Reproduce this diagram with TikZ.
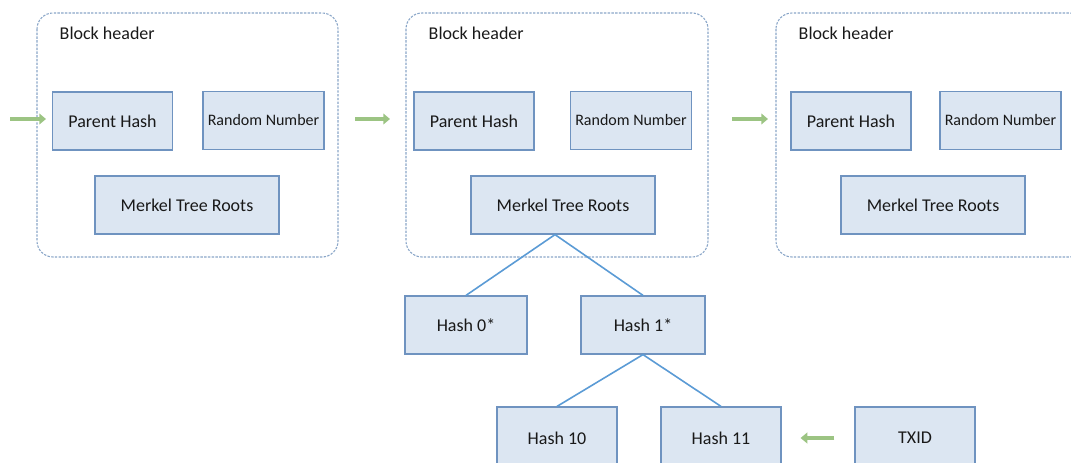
\documentclass[tikz,border=0pt]{standalone}
\usepackage{fontspec}
\setmainfont{Carlito}
\usetikzlibrary{arrows.meta}
\definecolor{boxfill}{HTML}{DCE6F2}
\definecolor{boxline}{HTML}{6F93C0}
\definecolor{frameline}{HTML}{8AA6C8}
\definecolor{treeline}{HTML}{5B9BD5}
\definecolor{flowgreen}{HTML}{9CC483}
\tikzset{
  px/.style={x=0.75pt,y=-0.75pt},
  hbox/.style={draw=boxline,fill=boxfill,line width=0.9pt,inner sep=0pt,
    font=\fontsize{13.5}{16}\selectfont,text=black!90},
  frame/.style={draw=frameline,line width=0.8pt,dash pattern=on 1.8pt off 1pt,rounded corners=12pt},
  flow/.style={draw=flowgreen,line width=3.6pt,-{Triangle[length=5pt,width=8pt]}},
  branch/.style={draw=treeline,line width=1.2pt}
}
\begin{document}
\begin{tikzpicture}[px]
\useasboundingbox (0,0) rectangle (1071,463);
\begin{scope}
\clip (0,0) rectangle (1071,463);
% block frames
\draw[frame] (37,13) rectangle (338,257);
\draw[frame] (406,13) rectangle (708,257);
\draw[frame] (776,13) rectangle (1085,257);
\node[anchor=west,font=\fontsize{13.5}{16}\selectfont,text=black!90] (bh1) at (55,33) {Block header};
\node[anchor=west,font=\fontsize{13.5}{16}\selectfont,text=black!90] (bh2) at (424,33) {Block header};
\node[anchor=west,font=\fontsize{13.5}{16}\selectfont,text=black!90] (bh3) at (794,33) {Block header};
% header fields
\foreach \i/\ph/\rn/\mk in {1/112.5/263.5/187, 2/474/631/563, 3/851/1000.5/933}{
  \node[hbox,minimum width=120*0.75pt,minimum height=58*0.75pt] (ph\i) at (\ph,121) {Parent Hash};
  \node[hbox,minimum width=121*0.75pt,minimum height=58*0.75pt,font=\fontsize{12}{14}\selectfont] (rn\i) at (\rn,120.5) {Random Number};
  \node[hbox,minimum width=184*0.75pt,minimum height=58*0.75pt] (mk\i) at (\mk,205) {Merkel Tree Roots};
}
% Merkel branch
\node[hbox,minimum width=122*0.75pt,minimum height=58*0.75pt] (h0) at (466,325) {Hash 0*};
\node[hbox,minimum width=124*0.75pt,minimum height=58*0.75pt] (h1) at (643,325) {Hash 1*};
\node[hbox,minimum width=120*0.75pt,minimum height=62*0.75pt] (h10) at (557,438) {Hash 10};
\node[hbox,minimum width=120*0.75pt,minimum height=62*0.75pt] (h11) at (721,438) {Hash 11};
\node[hbox,minimum width=120*0.75pt,minimum height=62*0.75pt] (tx) at (915,438) {TXID};
\draw[branch] ([xshift=-6pt]mk2.south) -- (h0.north);
\draw[branch] ([xshift=-6pt]mk2.south) -- (h1.north);
\draw[branch] (h1.south) -- (h10.north);
\draw[branch] (h1.south) -- (h11.north);
% chain arrows
\coordinate (in) at (10,119);
\coordinate (ine) at (46,119);
\coordinate (a1s) at (355,119);
\coordinate (a1e) at (390,119);
\coordinate (a2s) at (732,119);
\coordinate (a2e) at (768,119);
\draw[flow] (in) -- (ine);
\draw[flow] (a1s) -- (a1e);
\draw[flow] (a2s) -- (a2e);
\draw[flow] ([xshift=-20*0.75pt]tx.west) -- ([xshift=19*0.75pt]h11.east);
\end{scope}
\end{tikzpicture}
\end{document}
